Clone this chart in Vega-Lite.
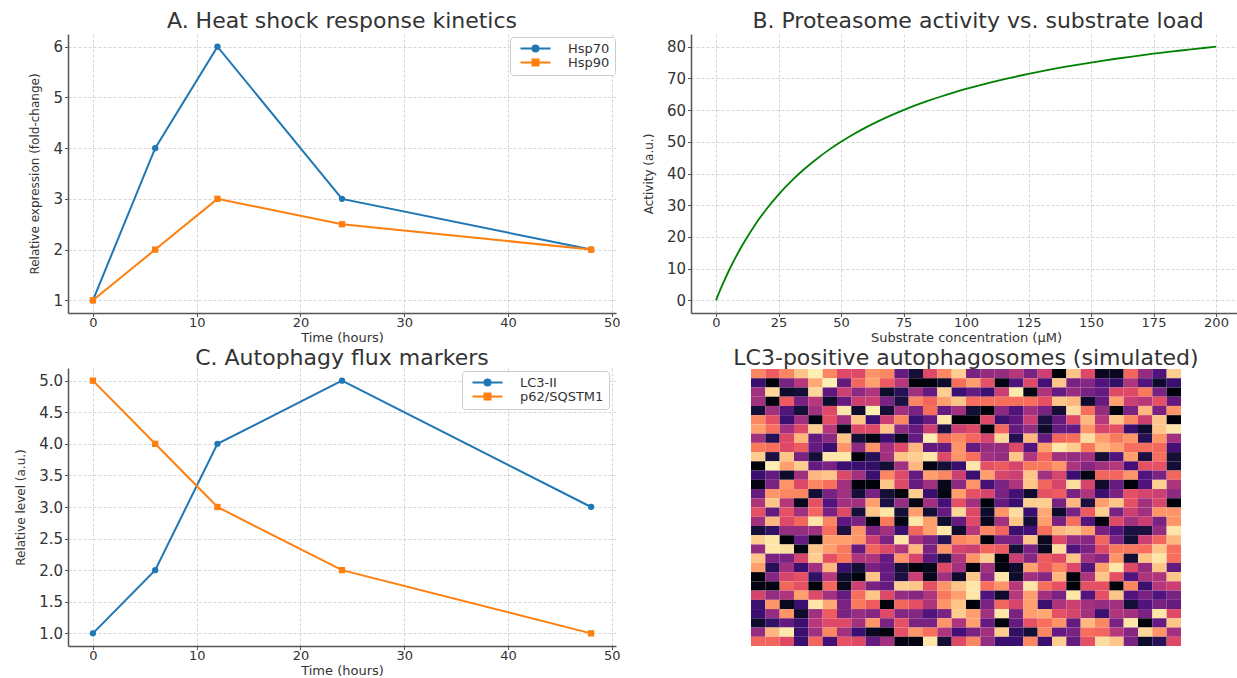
{
"$schema": "https://vega.github.io/schema/vega-lite/v6.json",
"padding": {"left": 14, "top": 10, "right": 0, "bottom": 0},
"background": "white",
"config": {
  "font": "DejaVu Sans",
  "view": {"stroke": null},
  "axis": {"labelFont": "DejaVu Sans", "labelFontSize": 15, "labelColor": "#333333", "titleFont": "DejaVu Sans", "titleFontSize": 13, "titleFontWeight": "normal", "titleColor": "#333333", "domainColor": "#555555", "domainWidth": 1.5, "tickColor": "#555555", "tickSize": 3.5, "tickWidth": 1, "gridColor": "#cccccc", "gridDash": [3, 2], "gridWidth": 0.8, "labelPadding": 2, "labelFlush": false, "labelOverlap": false},
  "axisX": {"labelFontSize": 13, "labelPadding": 0, "titlePadding": 1.5},
  "axisY": {"titleFontSize": 12},
  "title": {"font": "DejaVu Sans", "fontSize": 22, "fontWeight": "normal", "color": "#333333", "offset": 1, "baseline": "alphabetic", "anchor": "middle"}
},
"columns": 2,
"bounds": "flush",
"align": "each",
"spacing": {"row": 55, "column": 75},
"datasets": {
  "heat": [
{"r":0,"c":0,"v":0.75},{"r":0,"c":1,"v":0.65},{"r":0,"c":2,"v":0.75},{"r":0,"c":3,"v":0.88},{"r":0,"c":4,"v":0.97},{"r":0,"c":5,"v":0.75},{"r":0,"c":6,"v":0.6},{"r":0,"c":7,"v":0.6},{"r":0,"c":8,"v":0.78},{"r":0,"c":9,"v":0.75},{"r":0,"c":10,"v":0.3},{"r":0,"c":11,"v":0.1},{"r":0,"c":12,"v":0.6},{"r":0,"c":13,"v":0.75},{"r":0,"c":14,"v":0.9},{"r":0,"c":15,"v":0.35},{"r":0,"c":16,"v":0.42},{"r":0,"c":17,"v":0.42},{"r":0,"c":18,"v":0.5},{"r":0,"c":19,"v":0.35},{"r":0,"c":20,"v":0.55},{"r":0,"c":21,"v":0.02},{"r":0,"c":22,"v":0.88},{"r":0,"c":23,"v":0.6},{"r":0,"c":24,"v":0.06},{"r":0,"c":25,"v":0.06},{"r":0,"c":26,"v":0.68},{"r":0,"c":27,"v":0.42},{"r":0,"c":28,"v":0.25},{"r":0,"c":29,"v":0.9},
{"r":1,"c":0,"v":0.2},{"r":1,"c":1,"v":0.02},{"r":1,"c":2,"v":0.35},{"r":1,"c":3,"v":0.5},{"r":1,"c":4,"v":0.82},{"r":1,"c":5,"v":0.97},{"r":1,"c":6,"v":0.3},{"r":1,"c":7,"v":0.68},{"r":1,"c":8,"v":0.8},{"r":1,"c":9,"v":0.65},{"r":1,"c":10,"v":0.5},{"r":1,"c":11,"v":0.02},{"r":1,"c":12,"v":0.02},{"r":1,"c":13,"v":0.08},{"r":1,"c":14,"v":0.7},{"r":1,"c":15,"v":0.8},{"r":1,"c":16,"v":0.62},{"r":1,"c":17,"v":0.03},{"r":1,"c":18,"v":0.25},{"r":1,"c":19,"v":0.6},{"r":1,"c":20,"v":0.22},{"r":1,"c":21,"v":0.88},{"r":1,"c":22,"v":0.35},{"r":1,"c":23,"v":0.38},{"r":1,"c":24,"v":0.25},{"r":1,"c":25,"v":0.18},{"r":1,"c":26,"v":0.48},{"r":1,"c":27,"v":0.25},{"r":1,"c":28,"v":0.08},{"r":1,"c":29,"v":0.2},
{"r":2,"c":0,"v":0.45},{"r":2,"c":1,"v":0.92},{"r":2,"c":2,"v":0.08},{"r":2,"c":3,"v":0.1},{"r":2,"c":4,"v":0.92},{"r":2,"c":5,"v":0.28},{"r":2,"c":6,"v":0.55},{"r":2,"c":7,"v":0.4},{"r":2,"c":8,"v":0.48},{"r":2,"c":9,"v":0.08},{"r":2,"c":10,"v":0.15},{"r":2,"c":11,"v":0.45},{"r":2,"c":12,"v":0.3},{"r":2,"c":13,"v":0.9},{"r":2,"c":14,"v":0.2},{"r":2,"c":15,"v":0.3},{"r":2,"c":16,"v":0.2},{"r":2,"c":17,"v":0.55},{"r":2,"c":18,"v":0.96},{"r":2,"c":19,"v":0.03},{"r":2,"c":20,"v":0.48},{"r":2,"c":21,"v":0.3},{"r":2,"c":22,"v":0.42},{"r":2,"c":23,"v":0.35},{"r":2,"c":24,"v":0.3},{"r":2,"c":25,"v":0.6},{"r":2,"c":26,"v":0.6},{"r":2,"c":27,"v":0.72},{"r":2,"c":28,"v":0.35},{"r":2,"c":29,"v":0.02},
{"r":3,"c":0,"v":0.45},{"r":3,"c":1,"v":0.02},{"r":3,"c":2,"v":0.65},{"r":3,"c":3,"v":0.35},{"r":3,"c":4,"v":0.5},{"r":3,"c":5,"v":0.08},{"r":3,"c":6,"v":0.3},{"r":3,"c":7,"v":0.55},{"r":3,"c":8,"v":0.55},{"r":3,"c":9,"v":0.35},{"r":3,"c":10,"v":0.12},{"r":3,"c":11,"v":0.75},{"r":3,"c":12,"v":0.68},{"r":3,"c":13,"v":0.8},{"r":3,"c":14,"v":0.88},{"r":3,"c":15,"v":0.7},{"r":3,"c":16,"v":0.7},{"r":3,"c":17,"v":0.7},{"r":3,"c":18,"v":0.7},{"r":3,"c":19,"v":0.7},{"r":3,"c":20,"v":0.62},{"r":3,"c":21,"v":0.88},{"r":3,"c":22,"v":0.85},{"r":3,"c":23,"v":0.08},{"r":3,"c":24,"v":0.3},{"r":3,"c":25,"v":0.8},{"r":3,"c":26,"v":0.55},{"r":3,"c":27,"v":0.5},{"r":3,"c":28,"v":0.62},{"r":3,"c":29,"v":0.3},
{"r":4,"c":0,"v":0.1},{"r":4,"c":1,"v":0.45},{"r":4,"c":2,"v":0.25},{"r":4,"c":3,"v":0.1},{"r":4,"c":4,"v":0.45},{"r":4,"c":5,"v":0.6},{"r":4,"c":6,"v":0.95},{"r":4,"c":7,"v":0.08},{"r":4,"c":8,"v":0.97},{"r":4,"c":9,"v":0.1},{"r":4,"c":10,"v":0.45},{"r":4,"c":11,"v":0.35},{"r":4,"c":12,"v":0.7},{"r":4,"c":13,"v":0.3},{"r":4,"c":14,"v":0.45},{"r":4,"c":15,"v":0.1},{"r":4,"c":16,"v":0.02},{"r":4,"c":17,"v":0.4},{"r":4,"c":18,"v":0.25},{"r":4,"c":19,"v":0.45},{"r":4,"c":20,"v":0.35},{"r":4,"c":21,"v":0.1},{"r":4,"c":22,"v":0.93},{"r":4,"c":23,"v":0.7},{"r":4,"c":24,"v":0.42},{"r":4,"c":25,"v":0.02},{"r":4,"c":26,"v":0.35},{"r":4,"c":27,"v":0.85},{"r":4,"c":28,"v":0.35},{"r":4,"c":29,"v":0.78},
{"r":5,"c":0,"v":0.75},{"r":5,"c":1,"v":0.62},{"r":5,"c":2,"v":0.2},{"r":5,"c":3,"v":0.45},{"r":5,"c":4,"v":0.03},{"r":5,"c":5,"v":0.62},{"r":5,"c":6,"v":0.45},{"r":5,"c":7,"v":0.88},{"r":5,"c":8,"v":0.2},{"r":5,"c":9,"v":0.55},{"r":5,"c":10,"v":0.75},{"r":5,"c":11,"v":0.2},{"r":5,"c":12,"v":0.3},{"r":5,"c":13,"v":0.95},{"r":5,"c":14,"v":0.01},{"r":5,"c":15,"v":0.02},{"r":5,"c":16,"v":0.6},{"r":5,"c":17,"v":0.2},{"r":5,"c":18,"v":0.28},{"r":5,"c":19,"v":0.55},{"r":5,"c":20,"v":0.12},{"r":5,"c":21,"v":0.3},{"r":5,"c":22,"v":0.6},{"r":5,"c":23,"v":0.85},{"r":5,"c":24,"v":0.5},{"r":5,"c":25,"v":0.88},{"r":5,"c":26,"v":0.75},{"r":5,"c":27,"v":0.55},{"r":5,"c":28,"v":0.88},{"r":5,"c":29,"v":0.02},
{"r":6,"c":0,"v":0.8},{"r":6,"c":1,"v":0.7},{"r":6,"c":2,"v":0.45},{"r":6,"c":3,"v":0.6},{"r":6,"c":4,"v":0.9},{"r":6,"c":5,"v":0.5},{"r":6,"c":6,"v":0.05},{"r":6,"c":7,"v":0.6},{"r":6,"c":8,"v":0.6},{"r":6,"c":9,"v":0.88},{"r":6,"c":10,"v":0.4},{"r":6,"c":11,"v":0.3},{"r":6,"c":12,"v":0.55},{"r":6,"c":13,"v":0.12},{"r":6,"c":14,"v":0.55},{"r":6,"c":15,"v":0.6},{"r":6,"c":16,"v":0.02},{"r":6,"c":17,"v":0.68},{"r":6,"c":18,"v":0.3},{"r":6,"c":19,"v":0.42},{"r":6,"c":20,"v":0.08},{"r":6,"c":21,"v":0.3},{"r":6,"c":22,"v":0.3},{"r":6,"c":23,"v":0.78},{"r":6,"c":24,"v":0.58},{"r":6,"c":25,"v":0.62},{"r":6,"c":26,"v":0.2},{"r":6,"c":27,"v":0.08},{"r":6,"c":28,"v":0.88},{"r":6,"c":29,"v":0.95},
{"r":7,"c":0,"v":0.45},{"r":7,"c":1,"v":0.15},{"r":7,"c":2,"v":0.6},{"r":7,"c":3,"v":0.85},{"r":7,"c":4,"v":0.3},{"r":7,"c":5,"v":0.4},{"r":7,"c":6,"v":0.88},{"r":7,"c":7,"v":0.1},{"r":7,"c":8,"v":0.03},{"r":7,"c":9,"v":0.2},{"r":7,"c":10,"v":0.05},{"r":7,"c":11,"v":0.3},{"r":7,"c":12,"v":0.97},{"r":7,"c":13,"v":0.7},{"r":7,"c":14,"v":0.75},{"r":7,"c":15,"v":0.68},{"r":7,"c":16,"v":0.58},{"r":7,"c":17,"v":0.92},{"r":7,"c":18,"v":0.15},{"r":7,"c":19,"v":0.85},{"r":7,"c":20,"v":0.3},{"r":7,"c":21,"v":0.68},{"r":7,"c":22,"v":0.7},{"r":7,"c":23,"v":0.93},{"r":7,"c":24,"v":0.8},{"r":7,"c":25,"v":0.72},{"r":7,"c":26,"v":0.78},{"r":7,"c":27,"v":0.15},{"r":7,"c":28,"v":0.78},{"r":7,"c":29,"v":0.45},
{"r":8,"c":0,"v":0.72},{"r":8,"c":1,"v":0.7},{"r":8,"c":2,"v":0.6},{"r":8,"c":3,"v":0.65},{"r":8,"c":4,"v":0.3},{"r":8,"c":5,"v":0.2},{"r":8,"c":6,"v":0.78},{"r":8,"c":7,"v":0.4},{"r":8,"c":8,"v":0.78},{"r":8,"c":9,"v":0.45},{"r":8,"c":10,"v":0.6},{"r":8,"c":11,"v":0.85},{"r":8,"c":12,"v":0.3},{"r":8,"c":13,"v":0.3},{"r":8,"c":14,"v":0.78},{"r":8,"c":15,"v":0.3},{"r":8,"c":16,"v":0.42},{"r":8,"c":17,"v":0.42},{"r":8,"c":18,"v":0.6},{"r":8,"c":19,"v":0.25},{"r":8,"c":20,"v":0.8},{"r":8,"c":21,"v":0.95},{"r":8,"c":22,"v":0.9},{"r":8,"c":23,"v":0.72},{"r":8,"c":24,"v":0.85},{"r":8,"c":25,"v":0.8},{"r":8,"c":26,"v":0.7},{"r":8,"c":27,"v":0.7},{"r":8,"c":28,"v":0.68},{"r":8,"c":29,"v":0.22},
{"r":9,"c":0,"v":0.9},{"r":9,"c":1,"v":0.12},{"r":9,"c":2,"v":0.88},{"r":9,"c":3,"v":0.35},{"r":9,"c":4,"v":0.1},{"r":9,"c":5,"v":0.95},{"r":9,"c":6,"v":0.95},{"r":9,"c":7,"v":0.02},{"r":9,"c":8,"v":0.15},{"r":9,"c":9,"v":0.45},{"r":9,"c":10,"v":0.88},{"r":9,"c":11,"v":0.9},{"r":9,"c":12,"v":0.95},{"r":9,"c":13,"v":0.6},{"r":9,"c":14,"v":0.78},{"r":9,"c":15,"v":0.7},{"r":9,"c":16,"v":0.45},{"r":9,"c":17,"v":0.42},{"r":9,"c":18,"v":0.88},{"r":9,"c":19,"v":0.48},{"r":9,"c":20,"v":0.68},{"r":9,"c":21,"v":0.45},{"r":9,"c":22,"v":0.42},{"r":9,"c":23,"v":0.45},{"r":9,"c":24,"v":0.1},{"r":9,"c":25,"v":0.25},{"r":9,"c":26,"v":0.8},{"r":9,"c":27,"v":0.12},{"r":9,"c":28,"v":0.7},{"r":9,"c":29,"v":0.1},
{"r":10,"c":0,"v":0.02},{"r":10,"c":1,"v":0.97},{"r":10,"c":2,"v":0.8},{"r":10,"c":3,"v":0.9},{"r":10,"c":4,"v":0.3},{"r":10,"c":5,"v":0.35},{"r":10,"c":6,"v":0.2},{"r":10,"c":7,"v":0.2},{"r":10,"c":8,"v":0.18},{"r":10,"c":9,"v":0.1},{"r":10,"c":10,"v":0.45},{"r":10,"c":11,"v":0.85},{"r":10,"c":12,"v":0.03},{"r":10,"c":13,"v":0.1},{"r":10,"c":14,"v":0.2},{"r":10,"c":15,"v":0.95},{"r":10,"c":16,"v":0.62},{"r":10,"c":17,"v":0.65},{"r":10,"c":18,"v":0.58},{"r":10,"c":19,"v":0.72},{"r":10,"c":20,"v":0.72},{"r":10,"c":21,"v":0.78},{"r":10,"c":22,"v":0.48},{"r":10,"c":23,"v":0.38},{"r":10,"c":24,"v":0.45},{"r":10,"c":25,"v":0.5},{"r":10,"c":26,"v":0.22},{"r":10,"c":27,"v":0.62},{"r":10,"c":28,"v":0.62},{"r":10,"c":29,"v":0.1},
{"r":11,"c":0,"v":0.2},{"r":11,"c":1,"v":0.3},{"r":11,"c":2,"v":0.08},{"r":11,"c":3,"v":0.45},{"r":11,"c":4,"v":0.85},{"r":11,"c":5,"v":0.88},{"r":11,"c":6,"v":0.6},{"r":11,"c":7,"v":0.45},{"r":11,"c":8,"v":0.2},{"r":11,"c":9,"v":0.75},{"r":11,"c":10,"v":0.6},{"r":11,"c":11,"v":0.3},{"r":11,"c":12,"v":0.8},{"r":11,"c":13,"v":0.75},{"r":11,"c":14,"v":0.55},{"r":11,"c":15,"v":0.2},{"r":11,"c":16,"v":0.8},{"r":11,"c":17,"v":0.58},{"r":11,"c":18,"v":0.55},{"r":11,"c":19,"v":0.88},{"r":11,"c":20,"v":0.45},{"r":11,"c":21,"v":0.58},{"r":11,"c":22,"v":0.2},{"r":11,"c":23,"v":0.03},{"r":11,"c":24,"v":0.68},{"r":11,"c":25,"v":0.68},{"r":11,"c":26,"v":0.78},{"r":11,"c":27,"v":0.25},{"r":11,"c":28,"v":0.35},{"r":11,"c":29,"v":0.68},
{"r":12,"c":0,"v":0.03},{"r":12,"c":1,"v":0.35},{"r":12,"c":2,"v":0.78},{"r":12,"c":3,"v":0.6},{"r":12,"c":4,"v":0.75},{"r":12,"c":5,"v":0.7},{"r":12,"c":6,"v":0.45},{"r":12,"c":7,"v":0.02},{"r":12,"c":8,"v":0.02},{"r":12,"c":9,"v":0.88},{"r":12,"c":10,"v":0.6},{"r":12,"c":11,"v":0.3},{"r":12,"c":12,"v":0.45},{"r":12,"c":13,"v":0.05},{"r":12,"c":14,"v":0.4},{"r":12,"c":15,"v":0.78},{"r":12,"c":16,"v":0.22},{"r":12,"c":17,"v":0.35},{"r":12,"c":18,"v":0.48},{"r":12,"c":19,"v":0.88},{"r":12,"c":20,"v":0.68},{"r":12,"c":21,"v":0.58},{"r":12,"c":22,"v":0.93},{"r":12,"c":23,"v":0.58},{"r":12,"c":24,"v":0.08},{"r":12,"c":25,"v":0.3},{"r":12,"c":26,"v":0.01},{"r":12,"c":27,"v":0.25},{"r":12,"c":28,"v":0.9},{"r":12,"c":29,"v":0.48},
{"r":13,"c":0,"v":0.3},{"r":13,"c":1,"v":0.78},{"r":13,"c":2,"v":0.75},{"r":13,"c":3,"v":0.75},{"r":13,"c":4,"v":0.1},{"r":13,"c":5,"v":0.35},{"r":13,"c":6,"v":0.45},{"r":13,"c":7,"v":0.1},{"r":13,"c":8,"v":0.35},{"r":13,"c":9,"v":0.1},{"r":13,"c":10,"v":0.02},{"r":13,"c":11,"v":0.9},{"r":13,"c":12,"v":0.2},{"r":13,"c":13,"v":0.03},{"r":13,"c":14,"v":0.8},{"r":13,"c":15,"v":0.62},{"r":13,"c":16,"v":0.58},{"r":13,"c":17,"v":0.35},{"r":13,"c":18,"v":0.22},{"r":13,"c":19,"v":0.08},{"r":13,"c":20,"v":0.62},{"r":13,"c":21,"v":0.65},{"r":13,"c":22,"v":0.35},{"r":13,"c":23,"v":0.48},{"r":13,"c":24,"v":0.2},{"r":13,"c":25,"v":0.35},{"r":13,"c":26,"v":0.62},{"r":13,"c":27,"v":0.58},{"r":13,"c":28,"v":0.55},{"r":13,"c":29,"v":0.4},
{"r":14,"c":0,"v":0.48},{"r":14,"c":1,"v":0.88},{"r":14,"c":2,"v":0.5},{"r":14,"c":3,"v":0.05},{"r":14,"c":4,"v":0.62},{"r":14,"c":5,"v":0.25},{"r":14,"c":6,"v":0.45},{"r":14,"c":7,"v":0.45},{"r":14,"c":8,"v":0.8},{"r":14,"c":9,"v":0.12},{"r":14,"c":10,"v":0.42},{"r":14,"c":11,"v":0.03},{"r":14,"c":12,"v":0.45},{"r":14,"c":13,"v":0.22},{"r":14,"c":14,"v":0.62},{"r":14,"c":15,"v":0.45},{"r":14,"c":16,"v":0.02},{"r":14,"c":17,"v":0.3},{"r":14,"c":18,"v":0.2},{"r":14,"c":19,"v":0.9},{"r":14,"c":20,"v":0.9},{"r":14,"c":21,"v":0.35},{"r":14,"c":22,"v":0.85},{"r":14,"c":23,"v":0.12},{"r":14,"c":24,"v":0.8},{"r":14,"c":25,"v":0.88},{"r":14,"c":26,"v":0.62},{"r":14,"c":27,"v":0.45},{"r":14,"c":28,"v":0.58},{"r":14,"c":29,"v":0.02},
{"r":15,"c":0,"v":0.62},{"r":15,"c":1,"v":0.3},{"r":15,"c":2,"v":0.62},{"r":15,"c":3,"v":0.45},{"r":15,"c":4,"v":0.68},{"r":15,"c":5,"v":0.35},{"r":15,"c":6,"v":0.6},{"r":15,"c":7,"v":0.1},{"r":15,"c":8,"v":0.88},{"r":15,"c":9,"v":0.95},{"r":15,"c":10,"v":0.1},{"r":15,"c":11,"v":0.8},{"r":15,"c":12,"v":0.1},{"r":15,"c":13,"v":0.3},{"r":15,"c":14,"v":0.92},{"r":15,"c":15,"v":0.6},{"r":15,"c":16,"v":0.08},{"r":15,"c":17,"v":0.78},{"r":15,"c":18,"v":0.93},{"r":15,"c":19,"v":0.2},{"r":15,"c":20,"v":0.82},{"r":15,"c":21,"v":0.08},{"r":15,"c":22,"v":0.35},{"r":15,"c":23,"v":0.65},{"r":15,"c":24,"v":0.9},{"r":15,"c":25,"v":0.35},{"r":15,"c":26,"v":0.55},{"r":15,"c":27,"v":0.45},{"r":15,"c":28,"v":0.78},{"r":15,"c":29,"v":0.78},
{"r":16,"c":0,"v":0.45},{"r":16,"c":1,"v":0.85},{"r":16,"c":2,"v":0.6},{"r":16,"c":3,"v":0.68},{"r":16,"c":4,"v":0.95},{"r":16,"c":5,"v":0.75},{"r":16,"c":6,"v":0.28},{"r":16,"c":7,"v":0.35},{"r":16,"c":8,"v":0.02},{"r":16,"c":9,"v":0.72},{"r":16,"c":10,"v":0.03},{"r":16,"c":11,"v":0.95},{"r":16,"c":12,"v":0.8},{"r":16,"c":13,"v":0.08},{"r":16,"c":14,"v":0.3},{"r":16,"c":15,"v":0.6},{"r":16,"c":16,"v":0.05},{"r":16,"c":17,"v":0.45},{"r":16,"c":18,"v":0.88},{"r":16,"c":19,"v":0.1},{"r":16,"c":20,"v":0.8},{"r":16,"c":21,"v":0.35},{"r":16,"c":22,"v":0.7},{"r":16,"c":23,"v":0.25},{"r":16,"c":24,"v":0.02},{"r":16,"c":25,"v":0.6},{"r":16,"c":26,"v":0.45},{"r":16,"c":27,"v":0.55},{"r":16,"c":28,"v":0.35},{"r":16,"c":29,"v":0.78},
{"r":17,"c":0,"v":0.1},{"r":17,"c":1,"v":0.18},{"r":17,"c":2,"v":0.42},{"r":17,"c":3,"v":0.42},{"r":17,"c":4,"v":0.45},{"r":17,"c":5,"v":0.7},{"r":17,"c":6,"v":0.12},{"r":17,"c":7,"v":0.78},{"r":17,"c":8,"v":0.35},{"r":17,"c":9,"v":0.45},{"r":17,"c":10,"v":0.2},{"r":17,"c":11,"v":0.68},{"r":17,"c":12,"v":0.8},{"r":17,"c":13,"v":0.95},{"r":17,"c":14,"v":0.08},{"r":17,"c":15,"v":0.5},{"r":17,"c":16,"v":0.75},{"r":17,"c":17,"v":0.68},{"r":17,"c":18,"v":0.2},{"r":17,"c":19,"v":0.22},{"r":17,"c":20,"v":0.7},{"r":17,"c":21,"v":0.85},{"r":17,"c":22,"v":0.88},{"r":17,"c":23,"v":0.8},{"r":17,"c":24,"v":0.35},{"r":17,"c":25,"v":0.25},{"r":17,"c":26,"v":0.12},{"r":17,"c":27,"v":0.12},{"r":17,"c":28,"v":0.42},{"r":17,"c":29,"v":0.95},
{"r":18,"c":0,"v":0.9},{"r":18,"c":1,"v":0.95},{"r":18,"c":2,"v":0.02},{"r":18,"c":3,"v":0.3},{"r":18,"c":4,"v":0.02},{"r":18,"c":5,"v":0.8},{"r":18,"c":6,"v":0.8},{"r":18,"c":7,"v":0.78},{"r":18,"c":8,"v":0.55},{"r":18,"c":9,"v":0.35},{"r":18,"c":10,"v":0.95},{"r":18,"c":11,"v":0.45},{"r":18,"c":12,"v":0.35},{"r":18,"c":13,"v":0.15},{"r":18,"c":14,"v":0.75},{"r":18,"c":15,"v":0.78},{"r":18,"c":16,"v":0.02},{"r":18,"c":17,"v":0.35},{"r":18,"c":18,"v":0.35},{"r":18,"c":19,"v":0.88},{"r":18,"c":20,"v":0.06},{"r":18,"c":21,"v":0.6},{"r":18,"c":22,"v":0.42},{"r":18,"c":23,"v":0.38},{"r":18,"c":24,"v":0.68},{"r":18,"c":25,"v":0.35},{"r":18,"c":26,"v":0.1},{"r":18,"c":27,"v":0.55},{"r":18,"c":28,"v":0.68},{"r":18,"c":29,"v":0.85},
{"r":19,"c":0,"v":0.42},{"r":19,"c":1,"v":0.95},{"r":19,"c":2,"v":0.93},{"r":19,"c":3,"v":0.03},{"r":19,"c":4,"v":0.88},{"r":19,"c":5,"v":0.8},{"r":19,"c":6,"v":0.72},{"r":19,"c":7,"v":0.3},{"r":19,"c":8,"v":0.68},{"r":19,"c":9,"v":0.6},{"r":19,"c":10,"v":0.48},{"r":19,"c":11,"v":0.85},{"r":19,"c":12,"v":0.35},{"r":19,"c":13,"v":0.78},{"r":19,"c":14,"v":0.58},{"r":19,"c":15,"v":0.55},{"r":19,"c":16,"v":0.68},{"r":19,"c":17,"v":0.65},{"r":19,"c":18,"v":0.1},{"r":19,"c":19,"v":0.35},{"r":19,"c":20,"v":0.06},{"r":19,"c":21,"v":0.93},{"r":19,"c":22,"v":0.25},{"r":19,"c":23,"v":0.35},{"r":19,"c":24,"v":0.6},{"r":19,"c":25,"v":0.72},{"r":19,"c":26,"v":0.72},{"r":19,"c":27,"v":0.7},{"r":19,"c":28,"v":0.88},{"r":19,"c":29,"v":0.7},
{"r":20,"c":0,"v":0.88},{"r":20,"c":1,"v":0.35},{"r":20,"c":2,"v":0.35},{"r":20,"c":3,"v":0.58},{"r":20,"c":4,"v":0.9},{"r":20,"c":5,"v":0.62},{"r":20,"c":6,"v":0.72},{"r":20,"c":7,"v":0.48},{"r":20,"c":8,"v":0.48},{"r":20,"c":9,"v":0.3},{"r":20,"c":10,"v":0.78},{"r":20,"c":11,"v":0.58},{"r":20,"c":12,"v":0.28},{"r":20,"c":13,"v":0.12},{"r":20,"c":14,"v":0.48},{"r":20,"c":15,"v":0.78},{"r":20,"c":16,"v":0.9},{"r":20,"c":17,"v":0.02},{"r":20,"c":18,"v":0.55},{"r":20,"c":19,"v":0.38},{"r":20,"c":20,"v":0.65},{"r":20,"c":21,"v":0.6},{"r":20,"c":22,"v":0.88},{"r":20,"c":23,"v":0.45},{"r":20,"c":24,"v":0.38},{"r":20,"c":25,"v":0.78},{"r":20,"c":26,"v":0.1},{"r":20,"c":27,"v":0.88},{"r":20,"c":28,"v":0.95},{"r":20,"c":29,"v":0.7},
{"r":21,"c":0,"v":0.8},{"r":21,"c":1,"v":0.15},{"r":21,"c":2,"v":0.45},{"r":21,"c":3,"v":0.2},{"r":21,"c":4,"v":0.45},{"r":21,"c":5,"v":0.85},{"r":21,"c":6,"v":0.2},{"r":21,"c":7,"v":0.1},{"r":21,"c":8,"v":0.35},{"r":21,"c":9,"v":0.3},{"r":21,"c":10,"v":0.1},{"r":21,"c":11,"v":0.02},{"r":21,"c":12,"v":0.05},{"r":21,"c":13,"v":0.6},{"r":21,"c":14,"v":0.45},{"r":21,"c":15,"v":0.02},{"r":21,"c":16,"v":0.45},{"r":21,"c":17,"v":0.02},{"r":21,"c":18,"v":0.08},{"r":21,"c":19,"v":0.8},{"r":21,"c":20,"v":0.65},{"r":21,"c":21,"v":0.75},{"r":21,"c":22,"v":0.6},{"r":21,"c":23,"v":0.25},{"r":21,"c":24,"v":0.8},{"r":21,"c":25,"v":0.95},{"r":21,"c":26,"v":0.6},{"r":21,"c":27,"v":0.42},{"r":21,"c":28,"v":0.88},{"r":21,"c":29,"v":0.3},
{"r":22,"c":0,"v":0.02},{"r":22,"c":1,"v":0.38},{"r":22,"c":2,"v":0.58},{"r":22,"c":3,"v":0.62},{"r":22,"c":4,"v":0.18},{"r":22,"c":5,"v":0.5},{"r":22,"c":6,"v":0.08},{"r":22,"c":7,"v":0.02},{"r":22,"c":8,"v":0.88},{"r":22,"c":9,"v":0.3},{"r":22,"c":10,"v":0.12},{"r":22,"c":11,"v":0.55},{"r":22,"c":12,"v":0.05},{"r":22,"c":13,"v":0.45},{"r":22,"c":14,"v":0.08},{"r":22,"c":15,"v":0.88},{"r":22,"c":16,"v":0.4},{"r":22,"c":17,"v":0.95},{"r":22,"c":18,"v":0.08},{"r":22,"c":19,"v":0.45},{"r":22,"c":20,"v":0.38},{"r":22,"c":21,"v":0.85},{"r":22,"c":22,"v":0.02},{"r":22,"c":23,"v":0.48},{"r":22,"c":24,"v":0.88},{"r":22,"c":25,"v":0.62},{"r":22,"c":26,"v":0.25},{"r":22,"c":27,"v":0.48},{"r":22,"c":28,"v":0.48},{"r":22,"c":29,"v":0.88},
{"r":23,"c":0,"v":0.03},{"r":23,"c":1,"v":0.03},{"r":23,"c":2,"v":0.68},{"r":23,"c":3,"v":0.62},{"r":23,"c":4,"v":0.01},{"r":23,"c":5,"v":0.68},{"r":23,"c":6,"v":0.05},{"r":23,"c":7,"v":0.55},{"r":23,"c":8,"v":0.35},{"r":23,"c":9,"v":0.3},{"r":23,"c":10,"v":0.9},{"r":23,"c":11,"v":0.88},{"r":23,"c":12,"v":0.62},{"r":23,"c":13,"v":0.78},{"r":23,"c":14,"v":0.88},{"r":23,"c":15,"v":0.95},{"r":23,"c":16,"v":0.7},{"r":23,"c":17,"v":0.78},{"r":23,"c":18,"v":0.5},{"r":23,"c":19,"v":0.95},{"r":23,"c":20,"v":0.7},{"r":23,"c":21,"v":0.62},{"r":23,"c":22,"v":0.01},{"r":23,"c":23,"v":0.62},{"r":23,"c":24,"v":0.62},{"r":23,"c":25,"v":0.01},{"r":23,"c":26,"v":0.75},{"r":23,"c":27,"v":0.2},{"r":23,"c":28,"v":0.5},{"r":23,"c":29,"v":0.55},
{"r":24,"c":0,"v":0.58},{"r":24,"c":1,"v":0.42},{"r":24,"c":2,"v":0.48},{"r":24,"c":3,"v":0.8},{"r":24,"c":4,"v":0.6},{"r":24,"c":5,"v":0.45},{"r":24,"c":6,"v":0.3},{"r":24,"c":7,"v":0.7},{"r":24,"c":8,"v":0.88},{"r":24,"c":9,"v":0.6},{"r":24,"c":10,"v":0.42},{"r":24,"c":11,"v":0.38},{"r":24,"c":12,"v":0.48},{"r":24,"c":13,"v":0.72},{"r":24,"c":14,"v":0.8},{"r":24,"c":15,"v":0.95},{"r":24,"c":16,"v":0.25},{"r":24,"c":17,"v":0.08},{"r":24,"c":18,"v":0.5},{"r":24,"c":19,"v":0.8},{"r":24,"c":20,"v":0.45},{"r":24,"c":21,"v":0.35},{"r":24,"c":22,"v":0.95},{"r":24,"c":23,"v":0.25},{"r":24,"c":24,"v":0.62},{"r":24,"c":25,"v":0.88},{"r":24,"c":26,"v":0.25},{"r":24,"c":27,"v":0.35},{"r":24,"c":28,"v":0.25},{"r":24,"c":29,"v":0.35},
{"r":25,"c":0,"v":0.2},{"r":25,"c":1,"v":0.78},{"r":25,"c":2,"v":0.06},{"r":25,"c":3,"v":0.2},{"r":25,"c":4,"v":0.95},{"r":25,"c":5,"v":0.82},{"r":25,"c":6,"v":0.35},{"r":25,"c":7,"v":0.72},{"r":25,"c":8,"v":0.65},{"r":25,"c":9,"v":0.02},{"r":25,"c":10,"v":0.68},{"r":25,"c":11,"v":0.62},{"r":25,"c":12,"v":0.48},{"r":25,"c":13,"v":0.78},{"r":25,"c":14,"v":0.88},{"r":25,"c":15,"v":0.02},{"r":25,"c":16,"v":0.35},{"r":25,"c":17,"v":0.68},{"r":25,"c":18,"v":0.58},{"r":25,"c":19,"v":0.8},{"r":25,"c":20,"v":0.2},{"r":25,"c":21,"v":0.48},{"r":25,"c":22,"v":0.55},{"r":25,"c":23,"v":0.45},{"r":25,"c":24,"v":0.42},{"r":25,"c":25,"v":0.45},{"r":25,"c":26,"v":0.1},{"r":25,"c":27,"v":0.25},{"r":25,"c":28,"v":0.35},{"r":25,"c":29,"v":0.3},
{"r":26,"c":0,"v":0.2},{"r":26,"c":1,"v":0.42},{"r":26,"c":2,"v":0.78},{"r":26,"c":3,"v":0.08},{"r":26,"c":4,"v":0.45},{"r":26,"c":5,"v":0.65},{"r":26,"c":6,"v":0.35},{"r":26,"c":7,"v":0.42},{"r":26,"c":8,"v":0.38},{"r":26,"c":9,"v":0.6},{"r":26,"c":10,"v":0.38},{"r":26,"c":11,"v":0.38},{"r":26,"c":12,"v":0.25},{"r":26,"c":13,"v":0.35},{"r":26,"c":14,"v":0.9},{"r":26,"c":15,"v":0.8},{"r":26,"c":16,"v":0.45},{"r":26,"c":17,"v":0.95},{"r":26,"c":18,"v":0.35},{"r":26,"c":19,"v":0.8},{"r":26,"c":20,"v":0.82},{"r":26,"c":21,"v":0.62},{"r":26,"c":22,"v":0.58},{"r":26,"c":23,"v":0.45},{"r":26,"c":24,"v":0.2},{"r":26,"c":25,"v":0.48},{"r":26,"c":26,"v":0.45},{"r":26,"c":27,"v":0.35},{"r":26,"c":28,"v":0.95},{"r":26,"c":29,"v":0.6},
{"r":27,"c":0,"v":0.08},{"r":27,"c":1,"v":0.18},{"r":27,"c":2,"v":0.3},{"r":27,"c":3,"v":0.2},{"r":27,"c":4,"v":0.5},{"r":27,"c":5,"v":0.6},{"r":27,"c":6,"v":0.6},{"r":27,"c":7,"v":0.45},{"r":27,"c":8,"v":0.78},{"r":27,"c":9,"v":0.35},{"r":27,"c":10,"v":0.62},{"r":27,"c":11,"v":0.35},{"r":27,"c":12,"v":0.35},{"r":27,"c":13,"v":0.78},{"r":27,"c":14,"v":0.48},{"r":27,"c":15,"v":0.8},{"r":27,"c":16,"v":0.3},{"r":27,"c":17,"v":0.02},{"r":27,"c":18,"v":0.3},{"r":27,"c":19,"v":0.62},{"r":27,"c":20,"v":0.7},{"r":27,"c":21,"v":0.78},{"r":27,"c":22,"v":0.3},{"r":27,"c":23,"v":0.85},{"r":27,"c":24,"v":0.75},{"r":27,"c":25,"v":0.35},{"r":27,"c":26,"v":0.95},{"r":27,"c":27,"v":0.01},{"r":27,"c":28,"v":0.3},{"r":27,"c":29,"v":0.88},
{"r":28,"c":0,"v":0.42},{"r":28,"c":1,"v":0.85},{"r":28,"c":2,"v":0.96},{"r":28,"c":3,"v":0.2},{"r":28,"c":4,"v":0.45},{"r":28,"c":5,"v":0.75},{"r":28,"c":6,"v":0.45},{"r":28,"c":7,"v":0.2},{"r":28,"c":8,"v":0.06},{"r":28,"c":9,"v":0.02},{"r":28,"c":10,"v":0.62},{"r":28,"c":11,"v":0.78},{"r":28,"c":12,"v":0.7},{"r":28,"c":13,"v":0.48},{"r":28,"c":14,"v":0.22},{"r":28,"c":15,"v":0.35},{"r":28,"c":16,"v":0.45},{"r":28,"c":17,"v":0.9},{"r":28,"c":18,"v":0.18},{"r":28,"c":19,"v":0.1},{"r":28,"c":20,"v":0.75},{"r":28,"c":21,"v":0.3},{"r":28,"c":22,"v":0.35},{"r":28,"c":23,"v":0.7},{"r":28,"c":24,"v":0.68},{"r":28,"c":25,"v":0.5},{"r":28,"c":26,"v":0.38},{"r":28,"c":27,"v":0.92},{"r":28,"c":28,"v":0.78},{"r":28,"c":29,"v":0.45},
{"r":29,"c":0,"v":0.68},{"r":29,"c":1,"v":0.68},{"r":29,"c":2,"v":0.6},{"r":29,"c":3,"v":0.2},{"r":29,"c":4,"v":0.68},{"r":29,"c":5,"v":0.22},{"r":29,"c":6,"v":0.62},{"r":29,"c":7,"v":0.6},{"r":29,"c":8,"v":0.3},{"r":29,"c":9,"v":0.45},{"r":29,"c":10,"v":0.03},{"r":29,"c":11,"v":0.03},{"r":29,"c":12,"v":0.95},{"r":29,"c":13,"v":0.1},{"r":29,"c":14,"v":0.6},{"r":29,"c":15,"v":0.75},{"r":29,"c":16,"v":0.42},{"r":29,"c":17,"v":0.2},{"r":29,"c":18,"v":0.2},{"r":29,"c":19,"v":0.75},{"r":29,"c":20,"v":0.2},{"r":29,"c":21,"v":0.9},{"r":29,"c":22,"v":0.3},{"r":29,"c":23,"v":0.62},{"r":29,"c":24,"v":0.93},{"r":29,"c":25,"v":0.88},{"r":29,"c":26,"v":0.35},{"r":29,"c":27,"v":0.08},{"r":29,"c":28,"v":0.15},{"r":29,"c":29,"v":0.6}
  ]
},
"concat": [
  {
    "title": "A. Heat shock response kinetics",
    "width": 548, "height": 279,
    "data": {"values": [
      {"t": 0, "v": 1, "s": "Hsp70"}, {"t": 6, "v": 4, "s": "Hsp70"}, {"t": 12, "v": 6, "s": "Hsp70"}, {"t": 24, "v": 3, "s": "Hsp70"}, {"t": 48, "v": 2, "s": "Hsp70"},
      {"t": 0, "v": 1, "s": "Hsp90"}, {"t": 6, "v": 2, "s": "Hsp90"}, {"t": 12, "v": 3, "s": "Hsp90"}, {"t": 24, "v": 2.5, "s": "Hsp90"}, {"t": 48, "v": 2, "s": "Hsp90"}
    ]},
    "encoding": {
      "x": {"field": "t", "type": "quantitative", "scale": {"domain": [-2.4, 50.4], "nice": false, "zero": false}, "axis": {"values": [0, 10, 20, 30, 40, 50], "title": "Time (hours)", "grid": true}},
      "y": {"field": "v", "type": "quantitative", "scale": {"domain": [0.75, 6.25], "nice": false, "zero": false}, "axis": {"values": [1, 2, 3, 4, 5, 6], "title": "Relative expression (fold-change)", "grid": true, "titlePadding": 11}},
      "color": {"field": "s", "type": "nominal", "scale": {"domain": ["Hsp70", "Hsp90"], "range": ["#1f77b4", "#ff7f0e"]},
        "legend": {"title": null, "orient": "none", "legendX": 442, "legendY": 3, "padding": 5, "fillColor": "#ffffff", "strokeColor": "#cccccc", "cornerRadius": 3, "labelFont": "DejaVu Sans", "labelFontSize": 13, "labelColor": "#333333", "symbolSize": 4, "labelOffset": 40, "rowPadding": -2,
          "encode": {"symbols": {"update": {
            "shape": {"signal": "datum.value === 'Hsp70' ? 'M-1,0H29M11,0A3,3,0,1,1,17,0A3,3,0,1,1,11,0Z' : 'M-1,0H29M11,-3H17V3H11Z'"},
            "fill": {"signal": "datum.value === 'Hsp70' ? '#1f77b4' : '#ff7f0e'"},
            "stroke": {"signal": "datum.value === 'Hsp70' ? '#1f77b4' : '#ff7f0e'"},
            "strokeWidth": {"value": 2}, "opacity": {"value": 1}, "fillOpacity": {"value": 1}, "strokeOpacity": {"value": 1}}}}}}
    },
    "layer": [
      {"mark": {"type": "line", "strokeWidth": 2}},
      {"mark": {"type": "point", "filled": true, "opacity": 1, "size": 40}, "encoding": {"shape": {"field": "s", "type": "nominal", "scale": {"domain": ["Hsp70", "Hsp90"], "range": ["circle", "square"]}, "legend": null}}}
    ]
  },
  {
    "title": {"text": "B. Proteasome activity vs. substrate load", "dx": 12},
    "width": 550, "height": 279,
    "data": {"values": [
      {"s": 0, "a": 0}, {"s": 2.5, "a": 4.76}, {"s": 5, "a": 9.09}, {"s": 10, "a": 16.67}, {"s": 15, "a": 23.08}, {"s": 20, "a": 28.57}, {"s": 25, "a": 33.33}, {"s": 30, "a": 37.5}, {"s": 35, "a": 41.18}, {"s": 40, "a": 44.44}, {"s": 45, "a": 47.37}, {"s": 50, "a": 50}, {"s": 55, "a": 52.38}, {"s": 60, "a": 54.55}, {"s": 65, "a": 56.52}, {"s": 70, "a": 58.33}, {"s": 75, "a": 60}, {"s": 80, "a": 61.54}, {"s": 85, "a": 62.96}, {"s": 90, "a": 64.29}, {"s": 95, "a": 65.52}, {"s": 100, "a": 66.67}, {"s": 105, "a": 67.74}, {"s": 110, "a": 68.75}, {"s": 115, "a": 69.7}, {"s": 120, "a": 70.59}, {"s": 125, "a": 71.43}, {"s": 130, "a": 72.22}, {"s": 135, "a": 72.97}, {"s": 140, "a": 73.68}, {"s": 145, "a": 74.36}, {"s": 150, "a": 75}, {"s": 155, "a": 75.61}, {"s": 160, "a": 76.19}, {"s": 165, "a": 76.74}, {"s": 170, "a": 77.27}, {"s": 175, "a": 77.78}, {"s": 180, "a": 78.26}, {"s": 185, "a": 78.72}, {"s": 190, "a": 79.17}, {"s": 195, "a": 79.59}, {"s": 200, "a": 80}
    ]},
    "mark": {"type": "line", "color": "#008000", "strokeWidth": 1.8, "interpolate": "monotone"},
    "encoding": {
      "x": {"field": "s", "type": "quantitative", "scale": {"domain": [-10, 210], "nice": false, "zero": false}, "axis": {"values": [0, 25, 50, 75, 100, 125, 150, 175, 200], "title": "Substrate concentration (µM)", "grid": true}},
      "y": {"field": "a", "type": "quantitative", "scale": {"domain": [-4, 84], "nice": false, "zero": false}, "axis": {"values": [0, 10, 20, 30, 40, 50, 60, 70, 80], "title": "Activity (a.u.)", "grid": true, "titlePadding": 11}}
    }
  },
  {
    "title": {"text": "C. Autophagy flux markers", "offset": -2},
    "width": 548, "height": 278,
    "data": {"values": [
      {"t": 0, "v": 1, "s": "LC3-II"}, {"t": 6, "v": 2, "s": "LC3-II"}, {"t": 12, "v": 4, "s": "LC3-II"}, {"t": 24, "v": 5, "s": "LC3-II"}, {"t": 48, "v": 3, "s": "LC3-II"},
      {"t": 0, "v": 5, "s": "p62/SQSTM1"}, {"t": 6, "v": 4, "s": "p62/SQSTM1"}, {"t": 12, "v": 3, "s": "p62/SQSTM1"}, {"t": 24, "v": 2, "s": "p62/SQSTM1"}, {"t": 48, "v": 1, "s": "p62/SQSTM1"}
    ]},
    "encoding": {
      "x": {"field": "t", "type": "quantitative", "scale": {"domain": [-2.4, 50.4], "nice": false, "zero": false}, "axis": {"values": [0, 10, 20, 30, 40, 50], "title": "Time (hours)", "grid": true}},
      "y": {"field": "v", "type": "quantitative", "scale": {"domain": [0.8, 5.2], "nice": false, "zero": false}, "axis": {"values": [1, 1.5, 2, 2.5, 3, 3.5, 4, 4.5, 5], "format": ".1f", "title": "Relative level (a.u.)", "grid": true, "titlePadding": 11}},
      "color": {"field": "s", "type": "nominal", "scale": {"domain": ["LC3-II", "p62/SQSTM1"], "range": ["#1f77b4", "#ff7f0e"]},
        "legend": {"title": null, "orient": "none", "legendX": 394, "legendY": 3, "padding": 5, "fillColor": "#ffffff", "strokeColor": "#cccccc", "cornerRadius": 3, "labelFont": "DejaVu Sans", "labelFontSize": 13, "labelColor": "#333333", "symbolSize": 4, "labelOffset": 40, "rowPadding": -2,
          "encode": {"symbols": {"update": {
            "shape": {"signal": "datum.value === 'LC3-II' ? 'M-1,0H29M11,0A3,3,0,1,1,17,0A3,3,0,1,1,11,0Z' : 'M-1,0H29M11,-3H17V3H11Z'"},
            "fill": {"signal": "datum.value === 'LC3-II' ? '#1f77b4' : '#ff7f0e'"},
            "stroke": {"signal": "datum.value === 'LC3-II' ? '#1f77b4' : '#ff7f0e'"},
            "strokeWidth": {"value": 2}, "opacity": {"value": 1}, "fillOpacity": {"value": 1}, "strokeOpacity": {"value": 1}}}}}}
    },
    "layer": [
      {"mark": {"type": "line", "strokeWidth": 2}},
      {"mark": {"type": "point", "filled": true, "opacity": 1, "size": 40}, "encoding": {"shape": {"field": "s", "type": "nominal", "scale": {"domain": ["LC3-II", "p62/SQSTM1"], "range": ["circle", "square"]}, "legend": null}}}
    ]
  },
  {
    "title": {"text": "LC3-positive autophagosomes (simulated)", "offset": -2},
    "width": 550, "height": 278,
    "data": {"name": "heat"},
    "mark": {"type": "rect", "strokeWidth": 0},
    "encoding": {
      "x": {"field": "c", "type": "ordinal", "axis": null, "scale": {"paddingInner": 0, "paddingOuter": 0, "range": [60, 490]}},
      "y": {"field": "r", "type": "ordinal", "axis": null, "scale": {"paddingInner": 0, "paddingOuter": 0, "range": [1, 278]}},
      "color": {"field": "v", "type": "quantitative", "scale": {"scheme": "magma", "domain": [0, 1]}, "legend": null}
    }
  }
]
}
